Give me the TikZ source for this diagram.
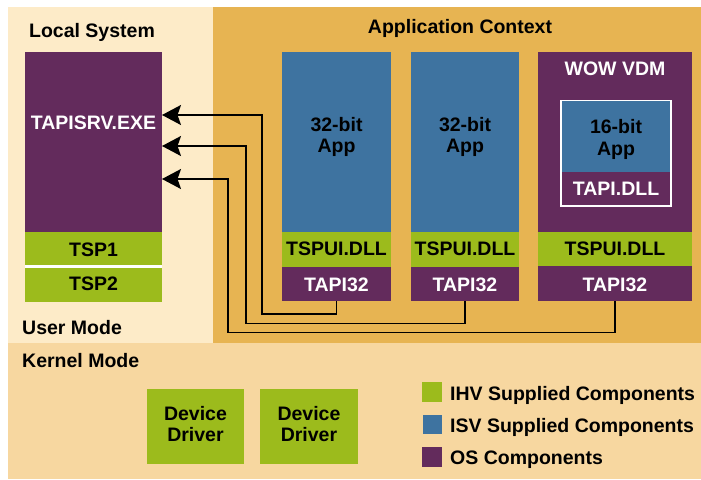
\documentclass[tikz,border=0pt]{standalone}
\usepackage{fontspec}
\setmainfont{Liberation Sans}
\usetikzlibrary{arrows.meta}
\definecolor{cream}{HTML}{FDEBC8}
\definecolor{orng}{HTML}{E7B452}
\definecolor{peach}{HTML}{F7D7A0}
\definecolor{purp}{HTML}{632B5C}
\definecolor{blu}{HTML}{3E73A0}
\definecolor{grn}{HTML}{9CBB1C}
\begin{document}
\begin{tikzpicture}[x=1pt,y=-1pt,
  box/.style={draw=none, inner sep=0pt, outer sep=0pt},
  lbl/.style={font=\bfseries\fontsize{19.5}{21}\selectfont, inner sep=0pt, text height=14pt, text depth=0pt},
  wlbl/.style={lbl, text=white},
  conn/.style={line width=1.8pt, -{Stealth[length=19pt,width=20pt,inset=3.5pt]}}]
\useasboundingbox (0,0) rectangle (701,479);
\fill[white] (0,0) rectangle (701,479);
% regions
\fill[cream] (8,7) rectangle (213,343);
\fill[orng] (213,7) rectangle (701,343);
\fill[peach] (8,343) rectangle (701,479);

\node[lbl] (lsys) at (92,30) {Local System};
\node[lbl] (actx) at (460,26) {Application Context};
\node[lbl, anchor=west] (umode) at (22,327.5) {User Mode};
\node[lbl, anchor=west] (kmode) at (22,360) {Kernel Mode};

% local system
\node[box, fill=purp, minimum width=137pt, minimum height=180pt] (srv) at (93.5,142) {};
\node[wlbl] (srvt) at (93.5,122) {TAPISRV.EXE};
\fill[white] (25,265) rectangle (162,267.5);
\node[box, fill=grn, minimum width=137pt, minimum height=33pt] (tsp1) at (93.5,248.5) {};
\node[lbl] (tsp1t) at (93.5,249) {TSP1};
\node[box, fill=grn, minimum width=137pt, minimum height=34pt] (tsp2) at (93.5,284.5) {};
\node[lbl] (tsp2t) at (93.5,283.5) {TSP2};

% 32-bit applications
\node[box, fill=blu, minimum width=109pt, minimum height=180pt] (app1) at (336.5,142) {};
\node[lbl] (app1a) at (336.5,124.5) {32-bit};
\node[lbl] (app1b) at (336.5,145.5) {App};
\node[box, fill=grn, minimum width=109pt, minimum height=35pt] (ui1) at (336.5,249.5) {};
\node[lbl] (ui1t) at (336.5,248) {TSPUI.DLL};
\node[box, fill=purp, minimum width=109pt, minimum height=34pt] (t1) at (336.5,284) {};
\node[wlbl] (t1t) at (336.5,284) {TAPI32};

\node[box, fill=blu, minimum width=108pt, minimum height=180pt] (app2) at (465,142) {};
\node[lbl] (app2a) at (465,124.5) {32-bit};
\node[lbl] (app2b) at (465,145.5) {App};
\node[box, fill=grn, minimum width=108pt, minimum height=35pt] (ui2) at (465,249.5) {};
\node[lbl] (ui2t) at (465,248) {TSPUI.DLL};
\node[box, fill=purp, minimum width=108pt, minimum height=34pt] (t2) at (465,284) {};
\node[wlbl] (t2t) at (465,284) {TAPI32};

% WOW VDM with the 16-bit application
\node[box, fill=purp, minimum width=154pt, minimum height=180pt] (wow) at (615,142) {};
\node[wlbl] (wowt) at (615,68) {WOW VDM};
\node[box, fill=purp, draw=white, line width=2pt, minimum width=110pt, minimum height=105pt] (inner) at (616,153.5) {};
\node[box, fill=blu, minimum width=108pt, minimum height=71pt] (app16) at (616,136) {};
\node[lbl] (app16a) at (616,126) {16-bit};
\node[lbl] (app16b) at (616,148) {App};
\node[wlbl] (tapidll) at (616,188) {TAPI.DLL};
\node[box, fill=grn, minimum width=154pt, minimum height=34pt] (ui3) at (615,249) {};
\node[lbl] (ui3t) at (615,248) {TSPUI.DLL};
\node[box, fill=purp, minimum width=154pt, minimum height=35pt] (t3) at (615,283.5) {};
\node[wlbl] (t3t) at (615,284) {TAPI32};

% connectors back to the service
\coordinate (in1) at (162,115);
\coordinate (in2) at (162,146);
\coordinate (in3) at (162,179);
\coordinate (k1) at (262,314);
\coordinate (k2) at (246,323.5);
\coordinate (k3) at (228,332.5);
\draw[conn] (t1.south) |- (k1) |- (in1);
\draw[conn] (t2.south) |- (k2) |- (in2);
\draw[conn] (t3.south) |- (k3) |- (in3);

% kernel mode drivers
\node[box, fill=grn, minimum width=97pt, minimum height=75pt] (dd1) at (195.5,426.5) {};
\node[lbl] (dd1a) at (195.5,413) {Device};
\node[lbl] (dd1b) at (195.5,434) {Driver};
\node[box, fill=grn, minimum width=98pt, minimum height=75pt] (dd2) at (309,426.5) {};
\node[lbl] (dd2a) at (309,413) {Device};
\node[lbl] (dd2b) at (309,434) {Driver};

% legend
\node[box, fill=grn, minimum size=20pt] (lg1) at (432,392) {};
\node[lbl, anchor=west] (lg1t) at (450,393) {IHV Supplied Components};
\node[box, fill=blu, minimum size=19pt] (lg2) at (432,424.5) {};
\node[lbl, anchor=west] (lg2t) at (450,425) {ISV Supplied Components};
\node[box, fill=purp, minimum size=20pt] (lg3) at (432,457) {};
\node[lbl, anchor=west] (lg3t) at (450,457) {OS Components};
\end{tikzpicture}
\end{document}
